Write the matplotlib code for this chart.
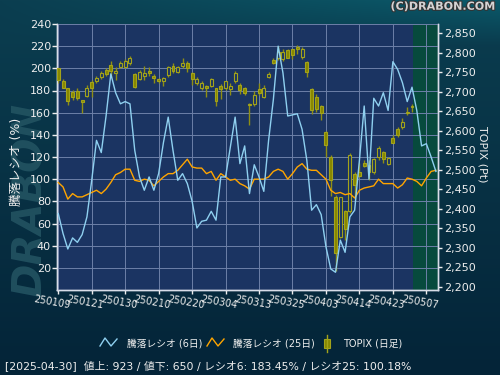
import numpy as np
import matplotlib
matplotlib.use("Agg")
import matplotlib.pyplot as plt
import matplotlib.patheffects as pe
from matplotlib.transforms import ScaledTranslation
from matplotlib.ticker import FuncFormatter

plt.rcParams['font.family'] = ['DejaVu Sans', 'Noto Sans CJK JP']

# x axis: one slot per trading day, a label every 7 days
tick_pos = [0, 7, 14, 21, 28, 35, 42, 49, 56, 63, 70, 77]
tick_labels = ["250109", "250121", "250130", "250210", "250220", "250304",
               "250313", "250325", "250403", "250414", "250423", "250507"]

ratio6 = [69, 51, 37, 47, 43, 50, 66, 99, 135, 124, 157, 195, 178, 168, 170, 168, 126, 102, 90, 102,
          90, 105, 133, 156, 126, 99, 105, 96, 80, 56, 62, 63, 71, 63, 102, 102, 129, 156, 114, 130,
          87, 113, 102, 89, 135, 172, 220, 196, 157, 158, 159, 145, 117, 72, 77, 68, 39, 19, 16, 45,
          34, 66, 72, 117, 166, 100, 173, 166, 178, 162, 206, 199, 187, 170, 183, 162, 130, 132, 120, 107]

ratio25 = [97, 93, 82, 87, 84, 84, 86, 88, 90, 87, 91, 97, 104, 106, 109, 109, 99, 98, 100, 99,
           94, 98, 102, 105, 105, 108, 113, 118, 111, 110, 110, 105, 107, 99, 105, 102, 99, 100, 96, 94,
           91, 100, 100, 100, 102, 107, 109, 107, 100, 105, 111, 114, 109, 108, 108, 104, 100, 90, 87, 88,
           86, 87, 83, 90, 92, 93, 94, 100, 96, 96, 96, 92, 95, 101, 100, 98, 94, 101, 107, 108]

topix_open = [2760, 2728, 2709, 2699, 2703, 2679, 2690, 2725, 2728, 2739,
              2756, 2769, 2747, 2764, 2764, 2775, 2746, 2733, 2741, 2754,
              2741, 2733, 2729, 2743, 2766, 2752, 2767, 2773, 2747, 2722,
              2711, 2716, 2715, 2710, 2715, 2709, 2706, 2729, 2717, 2709,
              2670, 2670, 2706, 2687, 2737, 2782, 2786, 2783, 2807, 2809,
              2816, 2790, 2777, 2707, 2687, 2664, 2598, 2534, 2431, 2327,
              2395, 2393, 2489, 2495, 2518, 2512, 2495, 2534, 2545, 2515,
              2581, 2604, 2609, 2649, 2664]
topix_high = [2762, 2733, 2711, 2704, 2711, 2679, 2717, 2730, 2740, 2754,
              2760, 2779, 2764, 2780, 2783, 2792, 2749, 2756, 2766, 2764,
              2746, 2735, 2739, 2767, 2773, 2766, 2786, 2779, 2752, 2737,
              2728, 2717, 2735, 2711, 2720, 2729, 2722, 2754, 2722, 2713,
              2672, 2703, 2722, 2717, 2752, 2788, 2817, 2809, 2809, 2811,
              2820, 2814, 2780, 2709, 2694, 2666, 2600, 2538, 2435, 2431,
              2397, 2542, 2495, 2517, 2525, 2525, 2529, 2561, 2549, 2534,
              2589, 2611, 2634, 2660, 2670]
topix_low = [2722, 2709, 2666, 2679, 2679, 2646, 2687, 2687, 2723, 2732,
             2741, 2739, 2730, 2760, 2760, 2769, 2711, 2730, 2730, 2741,
             2723, 2722, 2716, 2739, 2749, 2749, 2760, 2752, 2717, 2717,
             2705, 2687, 2713, 2664, 2681, 2705, 2693, 2723, 2694, 2693,
             2615, 2664, 2692, 2683, 2735, 2771, 2782, 2780, 2786, 2783,
             2797, 2783, 2739, 2643, 2649, 2628, 2534, 2433, 2239, 2324,
             2320, 2388, 2422, 2482, 2508, 2475, 2489, 2525, 2518, 2512,
             2568, 2585, 2604, 2640, 2649]
topix_close = [2730, 2710, 2677, 2687, 2683, 2675, 2709, 2709, 2736, 2749,
               2746, 2754, 2754, 2775, 2779, 2786, 2713, 2752, 2749, 2747,
               2735, 2728, 2736, 2763, 2754, 2764, 2775, 2760, 2732, 2733,
               2722, 2711, 2732, 2677, 2706, 2728, 2715, 2747, 2705, 2698,
               2666, 2692, 2696, 2711, 2746, 2773, 2803, 2801, 2788, 2794,
               2809, 2811, 2752, 2653, 2655, 2645, 2564, 2475, 2286, 2429,
               2347, 2538, 2461, 2484, 2510, 2495, 2527, 2557, 2527, 2529,
               2569, 2589, 2623, 2645, 2660]

cursor_idx = 74  # 2025-04-30, area after it is shaded green

PLOT_BG = "#1b3462"
FG = "#eeeeee"

fig = plt.figure(figsize=(5, 3.75), dpi=100)

# background gradient, watermark sits on it
H, W = 375, 500
rows = np.linspace(0, 1, H)[:, None, None]
cols = np.linspace(0, 1, W)[None, :, None]
top = np.array([11, 62, 80]) / 255
bottom = np.array([4, 36, 56]) / 255
grad = top * (1 - rows) + bottom * rows
band = np.clip(1 - np.linspace(0, H, H) / 45, 0, 1)[:, None, None]
grad = grad + np.array([0, 28, 26])[None, None, :] / 255 * cols * band
grad = np.clip(grad * np.ones((H, W, 3)), 0, 1)
bg = fig.add_axes([0, 0, 1, 1], zorder=-10)
bg.imshow(grad, aspect='auto', extent=[0, 500, 375, 0])
bg.set_xlim(0, 500)
bg.set_ylim(375, 0)
bg.axis('off')
bg.text(31, 200, "DRABON", rotation=90, ha='center', va='center', fontsize=29,
        weight='bold', style='italic', color="#245563", alpha=0.85)

ax = fig.add_axes([57.3 / 500, 1 - 290 / 375, 381 / 500, 266 / 375])
ax.set_facecolor(PLOT_BG)
ax.set_xlim(-0.2, 79.5)
ax.set_ylim(0, 240)
ax.set_yticks(range(20, 241, 20))
ax.set_xticks(tick_pos)
ax.set_axisbelow(False)
ax.grid(True, color="#6d80a8", lw=0.7)
ax.axvspan(cursor_idx + 0.2, 79.5, color="#074a3d", lw=0)

ax2 = ax.twinx()
ax2.set_ylim(2191.5, 2874)
ax2.set_yticks(range(2200, 2851, 50))
ax2.yaxis.set_major_formatter(FuncFormatter(lambda v, p: f"{int(v):,}"))

# candles
x = np.arange(len(topix_open))
o = np.array(topix_open)
c = np.array(topix_close)
ax2.vlines(x, topix_low, topix_high, color="#8f8f14", lw=1.0, zorder=2)
up = c > o
ax2.bar(x, np.maximum(np.abs(c - o), 1.5), bottom=np.minimum(o, c), width=0.62,
        facecolor=[PLOT_BG if u else "#878700" for u in up],
        edgecolor="#a3a31a", lw=0.8, zorder=3)

# ratio lines, drawn in left-axis units
xr = np.arange(len(ratio6))
ax2.plot(xr, ratio25, color="#ffa500", lw=1.0, transform=ax.transData, zorder=4)
ax2.plot(xr, ratio6, color="#8fd0f0", lw=1.0, transform=ax.transData, zorder=5)

for a in (ax, ax2):
    for s in a.spines.values():
        s.set_color("#d8dde8")
        s.set_linewidth(1.0)
    a.spines['top'].set_visible(False)

ax.tick_params(axis='y', colors=FG, labelsize=8, length=3.5, pad=1, width=1)
ax2.tick_params(axis='y', colors=FG, labelsize=8, length=3, pad=1.5, width=1)
ax.tick_params(axis='x', colors=FG, labelsize=7, length=3, pad=2, width=1)
ax.set_xticklabels(tick_labels, rotation=-10, ha='center', va='top', rotation_mode='anchor')
for lab in ax.get_xticklabels():
    lab.set_transform(lab.get_transform() + ScaledTranslation(-4 / 72, 0, fig.dpi_scale_trans))

ax.set_ylabel("騰落レシオ (%)", color=FG, fontsize=9, labelpad=2)
ax.yaxis.set_label_coords(-0.09, 0.48)
ax2.set_ylabel("TOPIX (Pt)", color=FG, fontsize=8, rotation=-90, labelpad=12)
ax2.yaxis.set_label_coords(1.13, 0.51)

# overlay in pixel coordinates for legend and captions
ov = fig.add_axes([0, 0, 1, 1], zorder=5)
ov.set_xlim(0, 500)
ov.set_ylim(375, 0)
ov.axis('off')

fig.text(0.99, 0.982, "(C)DRABON.COM", ha='right', va='center', fontsize=8, weight='bold',
         color="#d4d4d4", path_effects=[pe.withStroke(linewidth=1.5, foreground="#333333")])

ov.plot([100, 105, 111, 117], [346, 338, 346, 339], color="#8fd0f0", lw=1)
ov.text(127, 343, "騰落レシオ (6日)", color=FG, fontsize=7, va='center')
ov.plot([207, 212, 218, 224], [346, 338, 346, 339], color="#ffa500", lw=1)
ov.text(233, 343, "騰落レシオ (25日)", color=FG, fontsize=7, va='center')
ov.plot([327, 327], [335, 352], color="#a3a31a", lw=1)
ov.bar(327, 8.5, bottom=339, width=6, facecolor="#878700", edgecolor="#a3a31a", lw=0.8)
ov.text(343, 343, "TOPIX (日足)", color=FG, fontsize=7, va='center')

ov.text(5, 366, "[2025-04-30]  値上: 923 / 値下: 650 / レシオ6: 183.45% / レシオ25: 100.18%",
        color=FG, fontsize=7.8, va='center')

fig.savefig("out.png", dpi=100)
